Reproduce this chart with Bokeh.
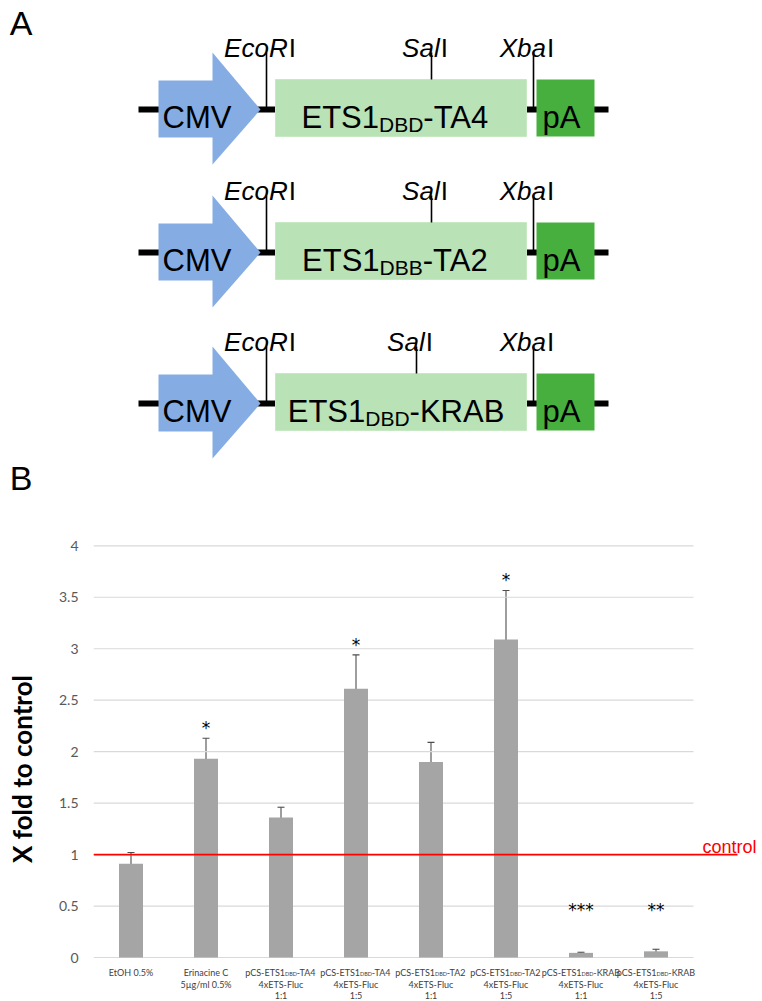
from bokeh.plotting import figure
from bokeh.models import Range1d, ColumnDataSource, Whisker, TeeHead, FixedTicker, NumeralTickFormatter
from bokeh.layouts import column
from bokeh.embed import file_html
from bokeh.resources import INLINE
from bokeh.core.properties import value

# ---------------- data: panel B (bar chart) ----------------
categories = ["EtOH", "Erinacine C", "TA4 1:1", "TA4 1:5", "TA2 1:1", "TA2 1:5", "KRAB 1:1", "KRAB 1:5"]
label_main = ["EtOH 0.5%", "Erinacine C", "pCS-ETS1", "pCS-ETS1", "pCS-ETS1", "pCS-ETS1", "pCS-ETS1", "pCS-ETS1"]
label_sub = ["", "", "DBD", "DBD", "DBD", "DBD", "DBD", "DBD"]
label_tail = ["", "", "-TA4", "-TA4", "-TA2", "-TA2", "-KRAB", "-KRAB"]
label_line2 = ["", "5\u00b5g/ml 0.5%", "4xETS-Fluc", "4xETS-Fluc", "4xETS-Fluc", "4xETS-Fluc", "4xETS-Fluc", "4xETS-Fluc"]
label_line3 = ["", "", "1:1", "1:5", "1:1", "1:5", "1:1", "1:5"]
fold_change = [0.91, 1.93, 1.36, 2.61, 1.90, 3.09, 0.045, 0.06]
fold_error = [0.11, 0.20, 0.10, 0.33, 0.19, 0.475, 0.006, 0.02]
significance = ["", "*", "", "*", "", "*", "***", "**"]
y_ticks = [0, 0.5, 1, 1.5, 2, 2.5, 3, 3.5, 4]
control_level = 1.0
control_label = "control"
y_title = "X fold to control"

# ---------------- data: panel A (construct maps) ----------------
construct_main = ["ETS1", "ETS1", "ETS1"]
construct_sub = ["DBD", "DBB", "DBD"]
construct_tail = ["-TA4", "-TA2", "-KRAB"]
promoter = "CMV"
polyA = "pA"
site_names = [("EcoR", "I"), ("Sal", "I"), ("Xba", "I")]
panel_letters = ["A", "B"]

# ---------------- helpers ----------------
ARIAL = {'E': .667, 'c': .5, 'o': .556, 'R': .722, 'I': .278, 'S': .667, 'a': .556, 'l': .222,
         'X': .667, 'b': .556, 'T': .611, '1': .556, 'D': .722, 'B': .667, '-': .333, 'A': .667,
         '4': .556, '2': .556, 'K': .667, 'C': .722, 'M': .833, 'V': .667, 'p': .556}
LATO = {'p': .57, 'C': .67, 'S': .536, '-': .38, 'E': .565, 'T': .588, '1': .58, 'D': .737,
        'B': .653, 'A': .68, '4': .58, '2': .58, 'K': .655, 'R': .625}


def tw(s, size, table):
    return sum(table.get(ch, .55) for ch in s) * size


ARIAL_F = value("Liberation Sans")
LATO_F = value("Lato")

W = 762
LEFT = 93            # frame left edge (page px) shared by both figures
TOP_H = 500
BOT_H = 500

# ======================= panel A figure =======================
top = figure(width=W, height=TOP_H, x_range=Range1d(LEFT, W), y_range=Range1d(TOP_H, 0),
             output_backend="svg", toolbar_location=None, x_axis_type=None,
             min_border_left=LEFT, min_border_right=0, min_border_top=0, min_border_bottom=0,
             outline_line_color=None)
top.grid.visible = False

# panel letters shown as the labels of an invisible left axis
letter_rows = [22.5, 477]
la = top.yaxis[0]
la.ticker = FixedTicker(ticks=letter_rows)
la.major_label_overrides = {letter_rows[0]: panel_letters[0], letter_rows[1]: panel_letters[1]}
la.axis_line_color = None
la.major_tick_line_color = None
la.minor_tick_line_color = None
la.major_tick_out = 0
la.major_tick_in = 0
la.major_label_standoff = 61
la.major_label_text_font = "Liberation Sans"
la.major_label_text_font_size = "34px"
la.major_label_text_color = "black"

row_y = [109, 252, 403]
sal_x = [431, 431, 416]
eco_x, xba_x = 266, 533
blue, light_green, green = "#85ADE3", "#B9E2B6", "#46AF3E"

# backbone
top.quad(left=[138] * 3, right=[608] * 3, top=[Y - 3 for Y in row_y], bottom=[Y + 3 for Y in row_y],
         fill_color="black", line_color=None)
# CMV arrow
top.quad(left=[158] * 3, right=[213] * 3, top=[Y - 29 for Y in row_y], bottom=[Y + 28 for Y in row_y],
         fill_color=blue, line_color=None)
top.patches(xs=[[212, 212, 260]] * 3, ys=[[Y - 57, Y + 55, Y] for Y in row_y], fill_color=blue, line_color=None)
# ETS box and pA box
top.quad(left=[275] * 3, right=[526] * 3, top=[Y - 30 for Y in row_y], bottom=[Y + 27 for Y in row_y],
         fill_color=light_green, line_color="#C6E8C3", line_width=1)
top.quad(left=[536] * 3, right=[594] * 3, top=[Y - 30 for Y in row_y], bottom=[Y + 27 for Y in row_y],
         fill_color=green, line_color=None)
# restriction site ticks
tx0, ty0, tx1, ty1 = [], [], [], []
for k, Y in enumerate(row_y):
    tx0 += [eco_x, sal_x[k], xba_x]
    tx1 += [eco_x, sal_x[k], xba_x]
    ty0 += [Y - 57, Y - 57, Y - 57]
    ty1 += [Y, Y - 30, Y]
top.segment(x0=tx0, y0=ty0, x1=tx1, y1=ty1, line_color="black", line_width=1.6)

# site labels: italic part + upright "I"
LS = 26
it_x, it_y, it_t, up_x, up_y, up_t = [], [], [], [], [], []
for k, Y in enumerate(row_y):
    for (ital, upr), tick in zip(site_names, [eco_x, sal_x[k], xba_x]):
        centre = tick - 7
        total = tw(ital, LS, ARIAL) + tw(upr, LS, ARIAL)
        anchor = centre + total / 2 - tw(upr, LS, ARIAL)
        it_x.append(anchor); it_y.append(Y - 62); it_t.append(ital)
        up_x.append(anchor + 1); up_y.append(Y - 62); up_t.append(upr)
top.text(x=it_x, y=it_y, text=it_t, text_font=ARIAL_F, text_font_size=f"{LS}px", text_font_style="italic",
         text_align="right", text_baseline="alphabetic", text_color="black")
top.text(x=up_x, y=up_y, text=up_t, text_font=ARIAL_F, text_font_size=f"{LS}px",
         text_align="left", text_baseline="alphabetic", text_color="black")

# CMV and pA labels
MS, SS = 31, 21
top.text(x=[196.5] * 3, y=[Y + 8 for Y in row_y], text=[promoter] * 3, text_font=ARIAL_F,
         text_font_size=f"{MS}px", text_align="center", text_baseline="alphabetic", text_color="black")
top.text(x=[561] * 3, y=[Y + 8 for Y in row_y], text=[polyA] * 3, text_font=ARIAL_F,
         text_font_size=f"{MS}px", text_align="center", text_baseline="alphabetic", text_color="black")

# construct names with subscript
mx, my, sx, sy, tx, ty = [], [], [], [], [], []
for k, Y in enumerate(row_y):
    w1 = tw(construct_main[k], MS, ARIAL)
    w2 = tw(construct_sub[k], SS, ARIAL)
    w3 = tw(construct_tail[k], MS, ARIAL)
    start = 395.5 - (w1 + w2 + w3) / 2
    mx.append(start); my.append(Y + 8)
    sx.append(start + w1); sy.append(Y + 14.5)
    tx.append(start + w1 + w2); ty.append(Y + 8)
top.text(x=mx, y=my, text=construct_main, text_font=ARIAL_F, text_font_size=f"{MS}px",
         text_align="left", text_baseline="alphabetic", text_color="black")
top.text(x=sx, y=sy, text=construct_sub, text_font=ARIAL_F, text_font_size=f"{SS}px",
         text_align="left", text_baseline="alphabetic", text_color="black")
top.text(x=tx, y=ty, text=construct_tail, text_font=ARIAL_F, text_font_size=f"{MS}px",
         text_align="left", text_baseline="alphabetic", text_color="black")

# ======================= panel B figure =======================
PPU = (957 - 545.3) / 4.0        # pixels per unit on y
BAND = 75.0                      # pixels per category
frame_w = W - LEFT
y_start = -(TOP_H + BOT_H - 957) / PPU
y_end = (957 - 537) / PPU
x_start = -0.5
x_end = x_start + frame_w / BAND

p = figure(width=W, height=BOT_H, x_range=Range1d(x_start, x_end), y_range=Range1d(y_start, y_end),
           output_backend="svg", toolbar_location=None, x_axis_type=None,
           min_border_left=LEFT, min_border_right=0, min_border_top=537 - TOP_H, min_border_bottom=0,
           outline_line_color=None)
p.ygrid.visible = False

n = len(categories)
xs = list(range(n))


def py(page_y):
    """page pixel row -> data value"""
    return (957 - page_y) / PPU


def px(page_x):
    return (page_x - LEFT) / BAND - 0.5


# gridlines (including the baseline at 0)
p.segment(x0=[-0.5] * len(y_ticks), x1=[n - 0.5] * len(y_ticks), y0=y_ticks, y1=y_ticks,
          line_color="#D9D9D9", line_width=1.2)

src = ColumnDataSource(dict(
    x=xs, top=fold_change,
    upper=[m + e for m, e in zip(fold_change, fold_error)],
    lower=[m - e for m, e in zip(fold_change, fold_error)],
))
p.vbar(x="x", top="top", bottom=0, width=0.32, source=src, fill_color="#A5A5A5", line_color=None)

err_col = "#4D4D4D"
p.add_layout(Whisker(base="x", upper="upper", lower="lower", source=src, line_color=err_col, line_width=1.1,
                     upper_head=TeeHead(size=7, line_color=err_col, line_width=1.1),
                     lower_head=TeeHead(size=7, line_color=err_col, line_width=1.1)))

# control line
p.segment(x0=[-0.5], x1=[px(737)], y0=[control_level], y1=[control_level], line_color="#FF0000", line_width=1.6)
p.text(x=[px(702)], y=[py(846.7)], text=[control_label], text_font=ARIAL_F, text_font_size="18px",
       text_color="#FF0000", text_align="left", text_baseline="alphabetic")

# significance stars
sig_y = [max(m + e + 0.10, 0.46) for m, e in zip(fold_change, fold_error)]
p.text(x=xs, y=sig_y, text=significance, text_font=value("DejaVu Sans"), text_font_size="17px",
       text_color="black", text_align="center", text_baseline="alphabetic")

# category labels
LF = 9
line_y = [py(b) for b in (972, 983.5, 995)]
plain_x, plain_t = [], []
ax_, mt, sx2, st, tx2, tt = [], [], [], [], [], []
for i in range(n):
    if label_sub[i] == "":
        plain_x.append(i); plain_t.append(label_main[i])
    else:
        w1 = tw(label_main[i], LF, LATO)
        w2 = tw(label_sub[i], 5.5, LATO)
        w3 = tw(label_tail[i], LF, LATO)
        anchor = i + (w1 - (w1 + w2 + w3) / 2) / BAND
        ax_.append(anchor); mt.append(label_main[i])
        sx2.append(anchor); st.append(label_sub[i])
        tx2.append(anchor + w2 / BAND); tt.append(label_tail[i])
lab_kw = dict(text_font=LATO_F, text_color="#404040", text_baseline="alphabetic")
p.text(x=plain_x, y=[line_y[0]] * len(plain_x), text=plain_t, text_font_size=f"{LF}px", text_align="center", **lab_kw)
p.text(x=ax_, y=[line_y[0]] * len(ax_), text=mt, text_font_size=f"{LF}px", text_align="right", **lab_kw)
p.text(x=sx2, y=[line_y[0] - 1.5 / PPU] * len(sx2), text=st, text_font_size="5.5px", text_align="left", **lab_kw)
p.text(x=tx2, y=[line_y[0]] * len(tx2), text=tt, text_font_size=f"{LF}px", text_align="left", **lab_kw)
p.text(x=xs, y=[line_y[1]] * n, text=label_line2, text_font_size=f"{LF}px", text_align="center", **lab_kw)
p.text(x=xs, y=[line_y[2]] * n, text=label_line3, text_font_size=f"{LF}px", text_align="center", **lab_kw)

# y axis
ya = p.yaxis[0]
ya.ticker = FixedTicker(ticks=y_ticks)
ya.formatter = NumeralTickFormatter(format="0.[0]")
ya.axis_line_color = None
ya.major_tick_line_color = None
ya.minor_tick_line_color = None
ya.major_tick_out = 0
ya.major_tick_in = 0
ya.major_label_standoff = 15
ya.major_label_text_font = "Lato"
ya.major_label_text_font_size = "14px"
ya.major_label_text_color = "#595959"
ya.axis_label = y_title
ya.axis_label_text_font = "Lato"
ya.axis_label_text_font_style = "bold"
ya.axis_label_text_font_size = "26px"
ya.axis_label_text_color = "black"
ya.axis_label_standoff = 18

layout = column(top, p)
open("out.html", "w").write(file_html(layout, INLINE))
